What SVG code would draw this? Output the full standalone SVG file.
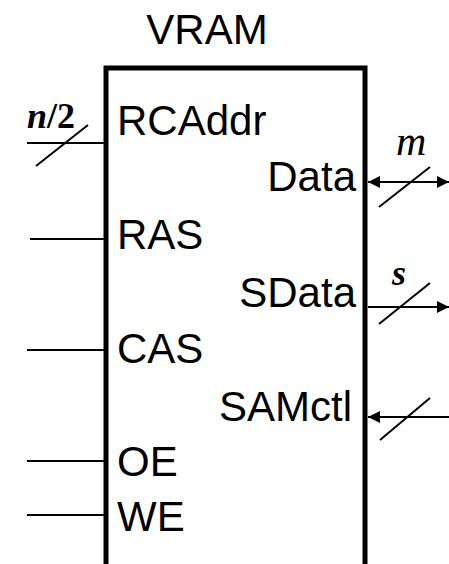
<svg xmlns="http://www.w3.org/2000/svg" width="449" height="564" viewBox="0 0 449 564">
<style>
.lbl{font-family:"Liberation Sans",Arial,sans-serif;font-size:42px;fill:#000}
.w{font-family:"Liberation Serif","Times New Roman",serif;font-weight:bold;font-size:36px;fill:#000}
.ln{stroke:#000;stroke-width:2;fill:none}
.box{stroke:#000;stroke-width:5;fill:none}
</style>
<defs>
<marker id="ah" viewBox="0 0 10 10" refX="10" refY="5" markerWidth="12" markerHeight="12" markerUnits="userSpaceOnUse" orient="auto-start-reverse">
<path d="M0,0 L10,5 L0,10 z" fill="#000"/>
</marker>
</defs>
<g id="vram">
<path class="box" d="M106,570 V68 H365 V570"/>
<text class="lbl" x="207" y="44" text-anchor="middle">VRAM</text>
<text class="lbl" x="117" y="135">RCAddr</text>
<text class="lbl" x="356" y="191" text-anchor="end">Data</text>
<text class="lbl" x="117" y="249">RAS</text>
<text class="lbl" x="356" y="307" text-anchor="end">SData</text>
<text class="lbl" x="117" y="363">CAS</text>
<text class="lbl" x="352" y="421" text-anchor="end">SAMctl</text>
<text class="lbl" x="117" y="476">OE</text>
<text class="lbl" x="117" y="531">WE</text>
</g>
<g id="connectors">
<line class="ln" x1="27" y1="143" x2="106" y2="143"/>
<line class="ln" x1="36" y1="166" x2="88" y2="125"/>
<text class="w" x="27" y="128" font-size="40"><tspan font-style="italic">n</tspan>/2</text>
<line class="ln" x1="30" y1="239" x2="106" y2="239"/>
<line class="ln" x1="27" y1="350" x2="106" y2="350"/>
<line class="ln" x1="27" y1="461" x2="106" y2="461"/>
<line class="ln" x1="27" y1="515" x2="106" y2="515"/>
<line class="ln" x1="368" y1="182" x2="449" y2="182" marker-start="url(#ah)" marker-end="url(#ah)"/>
<line class="ln" x1="379" y1="207" x2="430" y2="167"/>
<text x="396" y="155" style="font-family:'Liberation Serif','Times New Roman',serif;font-style:italic;font-size:42px">m</text>
<line class="ln" x1="368" y1="307" x2="449" y2="307" marker-end="url(#ah)"/>
<line class="ln" x1="379" y1="324" x2="430" y2="283"/>
<text class="w" x="392" y="285" font-style="italic">s</text>
<line class="ln" x1="449" y1="417" x2="368" y2="417" marker-end="url(#ah)"/>
<line class="ln" x1="380" y1="440" x2="430" y2="398"/>
</g>
</svg>
